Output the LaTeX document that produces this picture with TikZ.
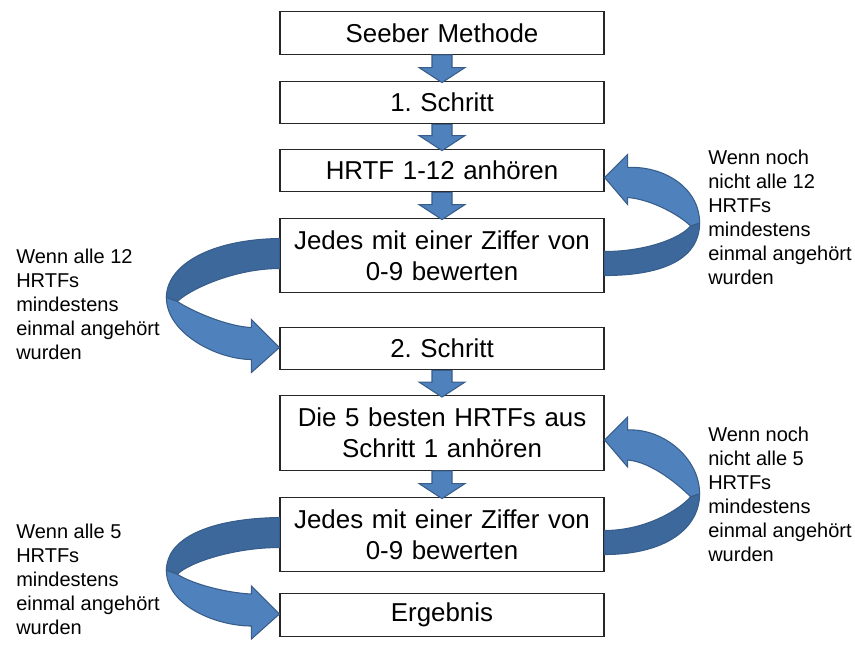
\documentclass[tikz,border=0pt]{standalone}
\usepackage{fontspec}
\setmainfont{Liberation Sans}
\usetikzlibrary{calc}
\frenchspacing

\definecolor{arrowblue}{RGB}{79,129,189}
\definecolor{arrowdark}{RGB}{60,104,156}
\definecolor{arrowedge}{RGB}{56,93,138}

% block arrow from the bottom of one box to the top of the next
\newcommand{\blockdown}[2]{%
    \filldraw[fill = arrowblue, draw = arrowedge, line width = 0.8pt] ($(#1.south)+(-10,0)$) -- ($(#1.south)+(10,0)$) -- ($(#2.north)+(10,-13)$) -- ($(#2.north)+(23,-13)$) -- ($(#2.north)+(0,2)$) -- ($(#2.north)+(-23,-13)$) -- ($(#2.north)+(-10,-13)$) -- cycle;}

% twisted arrow on the left, going down
\newcommand{\loopleft}[2]{%
    \coordinate (F) at (#1.west);
    \coordinate (T) at ($(#2.west)+(0,-1)$);
    \coordinate (W) at ($(F)!0.5!(T)+(-113,-4)$);
    \coordinate (Wi) at ($(W)+(11,4)$);
    \filldraw[fill = arrowdark, draw = arrowedge, line width = 0.8pt] ($(F)+(0,-17)$) .. controls ($(F)+(-70,-16)$) and ($(W)+(0,-32)$) .. (W) -- (Wi) .. controls ($(Wi)+(12,-12)$) and ($(F)+(-45,13)$) .. ($(F)+(0,13)$) -- cycle;
    \filldraw[fill = arrowblue, draw = arrowedge, line width = 0.8pt] (W) .. controls ($(W)+(0,36)$) and ($(T)+(-62,12)$) .. ($(T)+(-28,12)$) -- ($(T)+(-28,25)$) -- (T) -- ($(T)+(-28,-28)$) -- ($(T)+(-28,-20)$) .. controls ($(T)+(-52,-21)$) and ($(Wi)+(15,10)$) .. (Wi) -- cycle;}

% twisted arrow on the right, going up
\newcommand{\loopright}[2]{%
    \coordinate (F) at (#1.east);
    \coordinate (P) at ($(#2.east)+(0,7)$);
    \coordinate (W) at ($(#1.east)!0.5!(#2.east)+(95,10)$);
    \coordinate (Wi) at ($(W)+(-9,3)$);
    \filldraw[fill = arrowdark, draw = arrowedge, line width = 0.8pt] ($(F)+(0,20)$) .. controls ($(F)+(62,20)$) and ($(W)+(0,34)$) .. (W) -- (Wi) .. controls ($(Wi)+(-10,12)$) and ($(F)+(42,-4)$) .. ($(F)+(0,-4)$) -- cycle;
    \filldraw[fill = arrowblue, draw = arrowedge, line width = 0.8pt] (W) .. controls ($(W)+(0,-36)$) and ($(P)+(58,-12)$) .. ($(P)+(23,-10)$) -- ($(P)+(23,-23)$) -- (P) -- ($(P)+(23,27)$) -- ($(P)+(23,20)$) .. controls ($(P)+(48,22)$) and ($(Wi)+(-10,-10)$) .. (Wi) -- cycle;}

\begin{document}
\begin{tikzpicture}[x = 0.75pt, y = -0.75pt,
    box/.style = {draw = black!85, line width = 0.9pt, fill = white, minimum width = 243pt, text width = 236pt, minimum height = 32pt, align = center, font = \fontsize{19.4}{23.3}\selectfont},
    tallbox/.style = {box, minimum height = 56pt},
    sidetext/.style = {anchor = north west, inner sep = 0pt, align = left, font = \fontsize{15}{18}\selectfont}]
    \useasboundingbox (0, 0) rectangle (855, 644);

    \node[box] (seeber) at (442, 33) {Seeber Methode};
    \node[box] (step1) at (442, 102.5) {1. Schritt};
    \node[box] (listen1) at (442, 170.5) {HRTF 1-12 anhören};
    \node[tallbox] (rate1) at (442, 255.5) {Jedes mit einer Ziffer von\\0-9 bewerten};
    \node[box] (step2) at (442, 348.5) {2. Schritt};
    \node[tallbox] (listen2) at (442, 433) {Die 5 besten HRTFs aus\\Schritt 1 anhören};
    \node[tallbox] (rate2) at (442, 534.5) {Jedes mit einer Ziffer von\\0-9 bewerten};
    \node[box] (result) at (442, 615) {Ergebnis};

    \blockdown{seeber}{step1}
    \blockdown{step1}{listen1}
    \blockdown{listen1}{rate1}
    \blockdown{step2}{listen2}
    \blockdown{listen2}{rate2}

    \loopright{rate1}{listen1}
    \loopleft{rate1}{step2}
    \loopright{rate2}{listen2}
    \loopleft{rate2}{result}

    \node[sidetext] (again1) at (708, 150) {Wenn noch\\nicht alle 12\\HRTFs\\mindestens\\einmal angehört\\wurden};
    \node[sidetext] (done1) at (16, 249) {Wenn alle 12\\HRTFs\\mindestens\\einmal angehört\\wurden};
    \node[sidetext] (again2) at (708, 427) {Wenn noch\\nicht alle 5\\HRTFs\\mindestens\\einmal angehört\\wurden};
    \node[sidetext] (done2) at (16, 524) {Wenn alle 5\\HRTFs\\mindestens\\einmal angehört\\wurden};
\end{tikzpicture}
\end{document}
